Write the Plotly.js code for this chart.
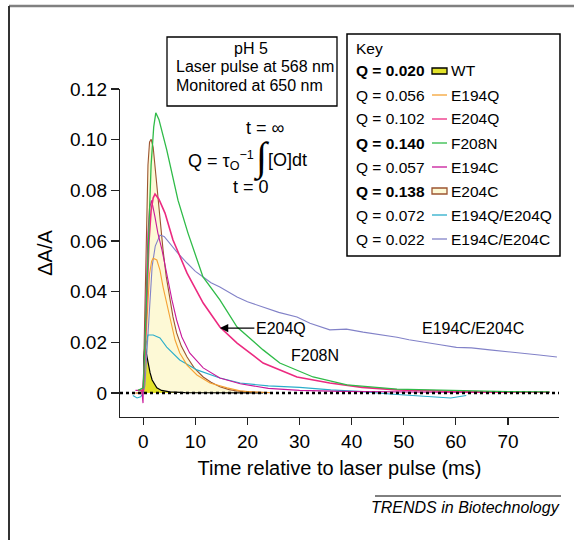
<!DOCTYPE html>
<html><head><meta charset="utf-8">
<script src="https://cdn.plot.ly/plotly-3.0.1.min.js"></script>
<style>html,body{margin:0;padding:0;background:#fff}#chart{width:574px;height:540px}</style>
</head><body><div id="chart"></div>
<script>
// ---- data ----
const wtT = [-0.2, 0, 0.1, 0.3, 0.6, 0.9, 1.3, 1.7, 2.2, 2.6, 3.5, 5.1, 8, 12, 18, 23];
const wtV = [0, 0.001, 0.012, 0.0193, 0.0155, 0.0118, 0.0080, 0.0051, 0.0032, 0.0020, 0.0010, 0.0004, 0.0001, 0, 0, 0];

const e204cT = [-1.5, -0.3, 0, 0.3, 0.6, 0.9, 1.2, 1.5, 1.9, 2.3, 2.8, 3.3, 3.8, 4.4, 5.1, 5.7, 6.4, 7.3, 8.4, 9.8, 11.5, 13, 14.7, 16.5, 18.6, 21, 24.3];
const e204cV = [0, 0, 0.003, 0.03, 0.065, 0.09, 0.099, 0.1002, 0.097, 0.088, 0.0761, 0.066, 0.0564, 0.046, 0.0367, 0.030, 0.0237, 0.0185, 0.0142, 0.0098, 0.0063, 0.0042, 0.0024, 0.0013, 0.0006, 0.0003, 0.0001];

const e194qT = [-1.5, -0.3, 0, 0.4, 0.8, 1.2, 1.6, 1.9, 2.6, 3.2, 3.8, 4.5, 5.1, 6.1, 7.0, 8.4, 10.3, 12.8, 16.1, 18.6, 21, 24.3];
const e194qV = [0, 0, 0.002, 0.018, 0.035, 0.047, 0.052, 0.0532, 0.0525, 0.0485, 0.0418, 0.0355, 0.0288, 0.0209, 0.0158, 0.011, 0.0071, 0.0039, 0.002, 0.0008, 0.0004, 0.0002];

const e194cT = [-1.5, -0.3, -0.05, 0, 0.3, 0.6, 0.9, 1.2, 1.6, 2.25, 2.8, 3.6, 4.2, 4.8, 5.5, 6.4, 7.4, 8.9, 11.5, 14.7, 18.6, 24, 30, 38, 46, 54, 62, 70, 78];
const e194cV = [0.001, 0.001, -0.004, 0.002, 0.02, 0.045, 0.063, 0.073, 0.076, 0.0694, 0.0631, 0.0564, 0.0497, 0.0434, 0.0367, 0.0288, 0.0221, 0.0158, 0.0099, 0.0059, 0.0036, 0.0018, 0.001, 0.0006, 0.0004, 0.0003, 0.0002, 0.0002, 0.0002];

const e204qT = [-1, 0, 0.3, 0.7, 1.1, 1.5, 1.9, 2.25, 3.0, 4.17, 5.7, 8.4, 11.5, 14.7, 18, 23, 29.5, 35.8, 42, 48.7, 55, 62, 70, 78];
const e204qV = [0.001, 0.001, 0.015, 0.04, 0.06, 0.072, 0.077, 0.0785, 0.0765, 0.071, 0.0604, 0.0473, 0.0355, 0.026, 0.0197, 0.0118, 0.0063, 0.0039, 0.0022, 0.0012, 0.0008, 0.0005, 0.0003, 0.0003];

const f208nT = [-1, 0, 0.5, 1, 1.5, 2, 2.4, 3, 4.5, 6.66, 8.58, 11.46, 14.7, 18, 23, 26.2, 32.6, 39.1, 48.7, 55, 62, 70, 78];
const f208nV = [0.001, 0.002, 0.03, 0.065, 0.09, 0.105, 0.1106, 0.108, 0.096, 0.0761, 0.0631, 0.0458, 0.0367, 0.026, 0.017, 0.0118, 0.0063, 0.0032, 0.0015, 0.0012, 0.0008, 0.0005, 0.0004];

const dblQT = [-2, -1.2, -0.5, 0, 0.3, 0.6, 0.9, 1.9, 3.2, 4.5, 7.0, 10.3, 14.7, 18.6, 24, 30, 36, 42, 48, 52, 56, 59, 62];
const dblQV = [-0.001, -0.002, -0.0015, 0, 0.012, 0.02, 0.0229, 0.0229, 0.0217, 0.0181, 0.013, 0.0091, 0.0059, 0.0039, 0.0028, 0.0022, 0.0012, 0.0005, -0.0005, -0.001, -0.0015, -0.002, -0.001];

const dblCT = [-1, 0, 0.3, 0.8, 1.2, 1.7, 2.3, 3.2, 4.0, 5.1, 6.5, 8.4, 10, 11.5, 13, 14.7, 16.6, 18, 20, 23, 26, 29.5, 32, 35.8, 39, 42.2, 45, 48.7, 51, 53.7, 57, 60.1, 63, 66.5, 70, 72.9, 76, 79.4];
const dblCV = [0, 0, 0.003, 0.02, 0.035, 0.05, 0.058, 0.0623, 0.0618, 0.059, 0.0555, 0.0513, 0.048, 0.0458, 0.0435, 0.0418, 0.0394, 0.0379, 0.036, 0.034, 0.0318, 0.030, 0.0275, 0.0249, 0.0252, 0.024, 0.0232, 0.022, 0.021, 0.020, 0.019, 0.018, 0.0178, 0.017, 0.0163, 0.0158, 0.015, 0.0142];

const keyNames = ['WT', 'E194Q', 'E204Q', 'F208N', 'E194C', 'E204C', 'E194Q/E204Q', 'E194C/E204C'];
const keyQ = ['0.020', '0.056', '0.102', '0.140', '0.057', '0.138', '0.072', '0.022'];
const keyBold = [true, false, false, true, false, true, false, false];
const xTicks = [0, 10, 20, 30, 40, 50, 60, 70];
const yTicks = [0, 0.02, 0.04, 0.06, 0.08, 0.10, 0.12];
const yTickText = ['0', '0.02', '0.04', '0.06', '0.08', '0.10', '0.12'];

// ---- styles ----
const C = {
  WT: '#000000', wtFill: '#e2e22a',
  E194Q: '#f5a233', E204Q: '#ec2a80', F208N: '#2fbb48', E194C: '#c8189a',
  E204C: '#9c5430', e204cFill: '#fdf9d6', E194QE204Q: '#2aaecb', E194CE204C: '#8282c8'
};
const keyColors = [C.WT, C.E194Q, C.E204Q, C.F208N, C.E194C, C.E204C, C.E194QE204Q, C.E194CE204C];

const FONT = 'Liberation Sans, Arial, Helvetica, sans-serif';
const L = 120, R = 559, T = 89, B = 417;
const px = X => (X - L) / (R - L);
const py = Y => (B - Y) / (B - T);

const traces = [
  {x: e204cT, y: e204cV, mode: 'lines', fill: 'tozeroy', fillcolor: C.e204cFill, line: {color: C.E204C, width: 1.1}, name: 'E204C'},
  {x: wtT, y: wtV, mode: 'lines', fill: 'tozeroy', fillcolor: C.wtFill, line: {color: C.WT, width: 1.2}, name: 'WT'},
  {x: dblCT, y: dblCV, mode: 'lines', line: {color: C.E194CE204C, width: 1.1}, name: 'E194C/E204C'},
  {x: dblQT, y: dblQV, mode: 'lines', line: {color: C.E194QE204Q, width: 1.1}, name: 'E194Q/E204Q'},
  {x: e194qT, y: e194qV, mode: 'lines', line: {color: C.E194Q, width: 1.1}, name: 'E194Q'},
  {x: e194cT, y: e194cV, mode: 'lines', line: {color: C.E194C, width: 1.1}, name: 'E194C'},
  {x: e204qT, y: e204qV, mode: 'lines', line: {color: C.E204Q, width: 1.6}, name: 'E204Q'},
  {x: f208nT, y: f208nV, mode: 'lines', line: {color: C.F208N, width: 1.3}, name: 'F208N'}
].map(t => Object.assign(t, {showlegend: false, hoverinfo: 'skip'}));

const shapes = [];
const ann = [];
const P = (X, Y, text, opts) => Object.assign({xref: 'paper', yref: 'paper', x: px(X), y: py(Y), text: text, showarrow: false,
  font: {family: FONT, size: 16, color: '#000'}, xanchor: 'left', yanchor: 'middle'}, opts || {});

// outer frame (top + left)
shapes.push({type: 'line', xref: 'paper', yref: 'paper', x0: px(9), x1: px(574), y0: py(6), y1: py(6), line: {color: '#808080', width: 2.5}});
shapes.push({type: 'line', xref: 'paper', yref: 'paper', x0: px(9), x1: px(9), y0: py(6), y1: py(540), line: {color: '#333', width: 2}});
// zero line
shapes.push({type: 'line', xref: 'paper', yref: 'y', x0: 0, x1: 1, y0: 0, y1: 0, line: {color: '#000', width: 2.5, dash: 'dot'}});
// info box
shapes.push({type: 'rect', xref: 'paper', yref: 'paper', x0: px(167), x1: px(337), y0: py(37), y1: py(106), line: {color: '#000', width: 1.3}, fillcolor: 'rgba(0,0,0,0)'});
ann.push(P(251, 49, 'pH 5', {xanchor: 'center'}));
ann.push(P(174, 67, 'Laser pulse at 568 nm'));
ann.push(P(174, 85, 'Monitored at 650 nm'));
// key box
shapes.push({type: 'rect', xref: 'paper', yref: 'paper', x0: px(347), x1: px(560), y0: py(34), y1: py(256), line: {color: '#000', width: 1.5}, fillcolor: '#fff'});
ann.push(P(354, 48, 'Key', {font: {family: FONT, size: 15.5, color: '#000'}}));
keyNames.forEach((nm, i) => {
  const Y = 71 + 24 * i;
  const qt = 'Q = ' + keyQ[i];
  ann.push(P(354, Y, keyBold[i] ? '<b>' + qt + '</b>' : qt, {font: {family: FONT, size: 15.5, color: '#000'}}));
  ann.push(P(449, Y, nm, {font: {family: FONT, size: 15.5, color: '#000'}}));
  if (nm === 'WT' || nm === 'E204C') {
    shapes.push({type: 'rect', xref: 'paper', yref: 'paper', x0: px(432), x1: px(447), y0: py(Y - 3), y1: py(Y + 3),
      line: {color: keyColors[i], width: 1.3}, fillcolor: nm === 'WT' ? C.wtFill : C.e204cFill});
  } else {
    shapes.push({type: 'line', xref: 'paper', yref: 'paper', x0: px(432), x1: px(447), y0: py(Y), y1: py(Y),
      line: {color: keyColors[i], width: 1.3}});
  }
});
// formula
const F18 = {family: FONT, size: 18, color: '#000'};
ann.push(P(265, 128, 't = ∞', {xanchor: 'center', font: F18}));
ann.push(P(256, 160, 'Q = τ<sub>O</sub><sup>−1</sup>', {xanchor: 'right', font: F18}));
ann.push(P(261, 157, '∫', {xanchor: 'center', font: {family: 'Liberation Serif, DejaVu Serif, serif', size: 40, color: '#000'}}));
ann.push(P(266, 160, '[O]dt', {font: F18}));
ann.push(P(251, 187, 't = 0', {xanchor: 'center', font: F18}));
// curve labels
ann.push({xref: 'x', yref: 'y', x: 14.7, y: 0.0256, ax: 61, ay: 0, text: 'E204Q', showarrow: true,
  arrowhead: 2, arrowsize: 1.4, arrowwidth: 1.2, arrowcolor: '#000', standoff: 0,
  font: {family: FONT, size: 16, color: '#000'}});
ann.push(P(315, 355, 'F208N', {xanchor: 'center'}));
ann.push(P(473, 328, 'E194C/E204C', {xanchor: 'center'}));
// credit
shapes.push({type: 'line', xref: 'paper', yref: 'paper', x0: px(375), x1: px(561), y0: py(496), y1: py(496), line: {color: '#000', width: 1}});
ann.push(P(562, 507, '<i>TRENDS in Biotechnology</i>', {xanchor: 'right'}));

const layout = {
  width: 574, height: 540,
  margin: {l: L, r: 574 - R, t: T, b: 540 - B, pad: 0},
  paper_bgcolor: '#fff', plot_bgcolor: '#fff',
  font: {family: FONT, color: '#000'},
  showlegend: false,
  xaxis: {range: [-4.47, 79.8], showgrid: false, zeroline: false, showline: true, linecolor: '#222', linewidth: 1.2,
    ticks: 'outside', ticklen: 7, tickwidth: 1.2, tickcolor: '#222', tickvals: xTicks, tickfont: {family: FONT, size: 19, color: '#000'},
    title: {text: 'Time relative to laser pulse (ms)', font: {family: FONT, size: 20, color: '#000'}, standoff: 10}},
  yaxis: {range: [-0.0095, 0.12], showgrid: false, zeroline: false, showline: true, linecolor: '#222', linewidth: 1.2,
    ticks: 'outside', ticklen: 8, tickwidth: 1.2, tickcolor: '#222', tickvals: yTicks, ticktext: yTickText,
    tickfont: {family: FONT, size: 19, color: '#000'},
    title: {text: 'ΔA/A', font: {family: FONT, size: 20, color: '#000'}, standoff: 12}},
  shapes: shapes,
  annotations: ann
};

Plotly.newPlot('chart', traces, layout, {staticPlot: true, displayModeBar: false});
</script></body></html>
